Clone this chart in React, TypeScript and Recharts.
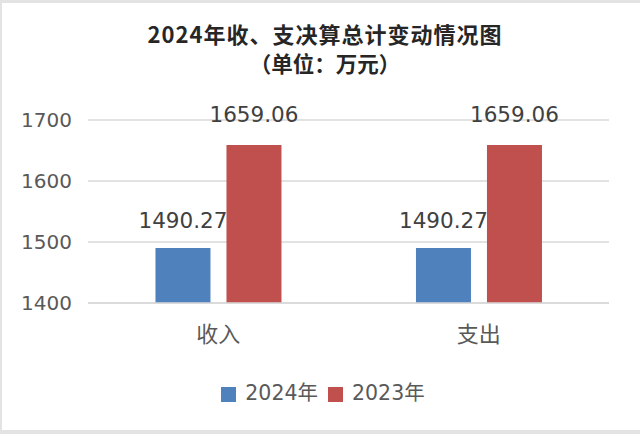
import { Bar, BarChart, CartesianGrid, LabelList, Legend, XAxis, YAxis } from "recharts";

const categories = ["收入", "支出"];
const values2024 = [1490.27, 1490.27];
const values2023 = [1659.06, 1659.06];
const yTicks = [1400, 1500, 1600, 1700];
const seriesOrder = ["2024年", "2023年"];

const data = categories.map((name, i) => ({
  name,
  y2024: values2024[i],
  y2023: values2023[i],
}));

const cjk = '"Noto Sans CJK SC", "DejaVu Sans", sans-serif';
const num = '"DejaVu Sans", "Noto Sans CJK SC", sans-serif';

export default function App() {
  return (
    <div style={{ position: "absolute", left: 0, top: 0, width: 640, height: 434, background: "#e3e3e3" }}>
      <div
        style={{
          position: "absolute",
          left: 2,
          top: 3,
          width: 638,
          height: 427,
          background: "#fff",
        }}
      />
      <div
        style={{
          position: "absolute",
          left: 0,
          top: 19,
          width: 650,
          textAlign: "center",
          fontFamily: cjk,
          fontWeight: "bold",
          fontSize: 22,
          lineHeight: "29px",
          color: "#262626",
        }}
      >
        <div style={{ letterSpacing: 1 }}>2024年收、支决算总计变动情况图</div>
        <div style={{ fontSize: 21.5 }}>（单位：万元）</div>
      </div>
      <div style={{ position: "absolute", left: 0, top: 0 }}>
        <BarChart
          width={640}
          height={434}
          data={data}
          margin={{ top: 120, right: 31, left: 8, bottom: 0 }}
          barGap={16}
          barCategoryGap="25.9%"
        >
          <CartesianGrid vertical={false} stroke="#d9d9d9" strokeWidth={1.5} />
          <XAxis
            dataKey="name"
            axisLine={{ stroke: "#d9d9d9", strokeWidth: 1.5 }}
            tickLine={false}
            tickSize={0}
            tickMargin={23}
            height={50}
            tick={{ fontSize: 22, fill: "#595959", fontFamily: cjk }}
          />
          <YAxis
            domain={[1400, 1700]}
            ticks={yTicks}
            axisLine={false}
            tickLine={false}
            tickSize={0}
            tickMargin={16}
            width={80}
            tick={{ fontSize: 20, fill: "#595959", fontFamily: num }}
          />
          <Legend
            verticalAlign="bottom"
            align="center"
            iconType="square"
            iconSize={15}
            height={81}
            itemSorter={(item) => seriesOrder.indexOf(String(item.value))}
            wrapperStyle={{
              fontFamily: num,
              fontSize: 20.5,
              top: 376,
              bottom: "auto",
              left: 8,
              width: 640,
            }}
            formatter={(value) => <span style={{ color: "#595959", marginLeft: 5 }}>{value}</span>}
          />
          <Bar dataKey="y2024" name="2024年" fill="#4f81bd" isAnimationActive={false}>
            <LabelList
              dataKey="y2024"
              position="top"
              offset={20}
              style={{ fontSize: 21.5, fill: "#404040", fontFamily: num }}
            />
          </Bar>
          <Bar dataKey="y2023" name="2023年" fill="#c0504d" isAnimationActive={false}>
            <LabelList
              dataKey="y2023"
              position="top"
              offset={23}
              style={{ fontSize: 21.5, fill: "#404040", fontFamily: num }}
            />
          </Bar>
        </BarChart>
      </div>
    </div>
  );
}
